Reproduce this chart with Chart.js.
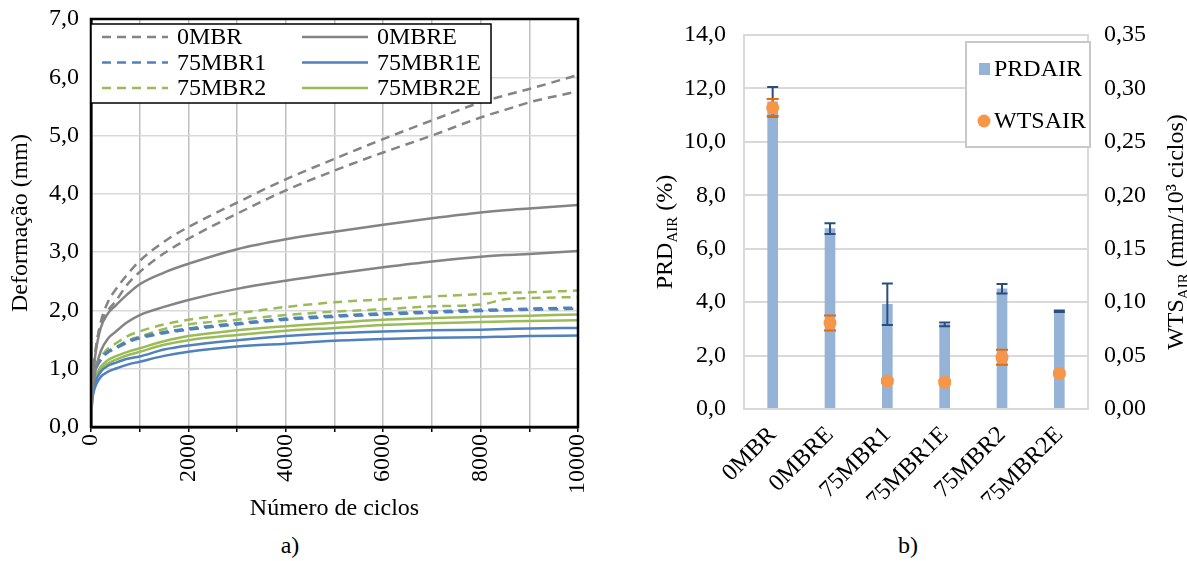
<!DOCTYPE html>
<html lang="pt">
<head>
<meta charset="utf-8">
<script src="https://cdn.jsdelivr.net/npm/chart.js@4.4.1/dist/chart.umd.min.js"></script>
<style>
  html, body { margin: 0; padding: 0; width: 1187px; height: 561px; background: #fff; overflow: hidden; }
  .box { position: absolute; top: 0; }
  #leftBox { left: 0; width: 600px; height: 525px; }
  #rightBox { left: 600px; width: 587px; height: 500px; }
  .cap { position: absolute; top: 532px; font: 24px "Liberation Serif", serif; color: #000; transform: translateX(-50%); }
</style>
</head>
<body>
<div class="box" id="leftBox"><canvas id="left"></canvas></div>
<div class="box" id="rightBox"><canvas id="right"></canvas></div>
<div class="cap" style="left:290px">a)</div>
<div class="cap" style="left:908px">b)</div>
<script>
// ---- chart a) : deformation vs cycles (two specimens per mixture)
const cycles = [0, 20, 50, 100, 200, 350, 500, 750, 1000, 1500, 2000, 3000, 4000, 5000, 6000, 7000, 8000, 8500, 9000, 10000];
const mbr0A    = [0, 0.55, 0.95, 1.35, 1.80, 2.15, 2.35, 2.62, 2.85, 3.18, 3.43, 3.85, 4.25, 4.60, 4.94, 5.26, 5.57, 5.69, 5.80, 6.04];
const mbr0B    = [0, 0.55, 0.95, 1.35, 1.75, 2.00, 2.15, 2.45, 2.66, 2.98, 3.23, 3.66, 4.06, 4.40, 4.71, 5.00, 5.31, 5.44, 5.57, 5.76];
const mbr0eA   = [0, 0.55, 0.95, 1.30, 1.70, 1.95, 2.08, 2.28, 2.45, 2.65, 2.80, 3.05, 3.22, 3.35, 3.47, 3.58, 3.68, 3.72, 3.75, 3.81];
const mbr0eB   = [0, 0.45, 0.75, 1.00, 1.30, 1.52, 1.63, 1.80, 1.92, 2.06, 2.18, 2.37, 2.51, 2.63, 2.74, 2.84, 2.92, 2.95, 2.97, 3.02];
const mbr751A  = [0, 0.50, 0.80, 1.00, 1.17, 1.30, 1.36, 1.47, 1.54, 1.63, 1.69, 1.78, 1.86, 1.91, 1.95, 1.98, 2.01, 2.02, 2.03, 2.05];
const mbr751B  = [0, 0.50, 0.78, 0.98, 1.15, 1.28, 1.34, 1.45, 1.52, 1.61, 1.67, 1.76, 1.84, 1.89, 1.93, 1.96, 1.99, 2.00, 2.01, 2.03];
const mbr751eA = [0, 0.45, 0.65, 0.80, 0.95, 1.05, 1.10, 1.17, 1.21, 1.33, 1.40, 1.49, 1.56, 1.61, 1.64, 1.66, 1.67, 1.68, 1.69, 1.70];
const mbr751eB = [0, 0.40, 0.58, 0.72, 0.86, 0.95, 1.00, 1.07, 1.12, 1.22, 1.29, 1.38, 1.43, 1.48, 1.51, 1.53, 1.54, 1.55, 1.56, 1.57];
const mbr752A  = [0, 0.55, 0.85, 1.05, 1.20, 1.35, 1.43, 1.56, 1.64, 1.76, 1.84, 1.95, 2.06, 2.14, 2.19, 2.24, 2.28, 2.30, 2.31, 2.34];
const mbr752B  = [0, 0.50, 0.80, 1.00, 1.15, 1.30, 1.36, 1.48, 1.55, 1.68, 1.76, 1.84, 1.92, 1.98, 2.02, 2.07, 2.10, 2.19, 2.21, 2.23];
const mbr752eA = [0, 0.50, 0.72, 0.88, 1.03, 1.15, 1.21, 1.29, 1.35, 1.47, 1.56, 1.66, 1.73, 1.79, 1.84, 1.87, 1.89, 1.90, 1.91, 1.93];
const mbr752eB = [0, 0.48, 0.68, 0.83, 0.98, 1.09, 1.15, 1.23, 1.29, 1.41, 1.49, 1.58, 1.65, 1.70, 1.75, 1.78, 1.80, 1.81, 1.82, 1.83];

// ---- chart b) : PRD_AIR bars and WTS_AIR points
const mixes  = ['0MBR', '0MBRE', '75MBR1', '75MBR1E', '75MBR2', '75MBR2E'];
const prd    = [11.5, 6.75, 3.92, 3.17, 4.50, 3.66];
const prdErr = [0.55, 0.20, 0.78, 0.07, 0.18, 0.03];
const wts    = [0.282, 0.0805, 0.0262, 0.0252, 0.0484, 0.0334];
const wtsErr = [0.008, 0.007, 0.002, 0.002, 0.007, 0.002];

const GRAY = '#848484', BLUE = '#4F81BD', GREEN = '#9BBB59';
const FONT = '"Liberation Serif", "Times New Roman", serif';
const FS = 24;
const DASH = [9, 6];

const comma = (v, d) => v.toFixed(d).replace('.', ',');
const pts = arr => cycles.map((x, i) => ({ x, y: arr[i] }));

function series(label, arr, color, dashed) {
  return {
    label, data: pts(arr), borderColor: color, backgroundColor: color,
    borderWidth: 2.5, borderDash: dashed ? DASH : [], pointRadius: 0,
    cubicInterpolationMode: 'monotone', fill: false
  };
}

// order chosen so legend reads row by row like the original
const leftSets = [
  series('0MBR', mbr0A, GRAY, true), series('0MBR', mbr0B, GRAY, true),
  series('0MBRE', mbr0eA, GRAY, false), series('0MBRE', mbr0eB, GRAY, false),
  series('75MBR1', mbr751A, BLUE, true), series('75MBR1', mbr751B, BLUE, true),
  series('75MBR1E', mbr751eA, BLUE, false), series('75MBR1E', mbr751eB, BLUE, false),
  series('75MBR2', mbr752A, GREEN, true), series('75MBR2', mbr752B, GREEN, true),
  series('75MBR2E', mbr752eA, GREEN, false), series('75MBR2E', mbr752eB, GREEN, false)
];

const plotFrame = {
  id: 'plotFrame',
  afterDraw(chart, args, opts) {
    const { ctx, chartArea: a } = chart;
    ctx.save();
    ctx.strokeStyle = opts.color;
    ctx.lineWidth = opts.width;
    ctx.strokeRect(a.left, a.top, a.right - a.left, a.bottom - a.top);
    ctx.restore();
  }
};

// legend of chart a): 3 rows x 2 columns, one entry per pair of curves
const pairLegend = {
  id: 'pairLegend',
  afterDraw(chart) {
    const { ctx, chartArea: a } = chart;
    const sets = chart.data.datasets.filter((d, i) => i % 2 === 0);
    const x0 = a.left, y0 = a.top + 5, w = 400, h = 79;
    ctx.save();
    ctx.fillStyle = '#fff';
    ctx.fillRect(x0, y0, w, h);
    ctx.strokeStyle = '#000';
    ctx.lineWidth = 1.5;
    ctx.strokeRect(x0, y0, w, h);
    ctx.font = FS + 'px ' + FONT;
    ctx.textBaseline = 'middle';
    sets.forEach((d, i) => {
      const col = i % 2, row = Math.floor(i / 2);
      const lx = x0 + 11 + col * 200, ly = y0 + 13 + row * 25.5;
      ctx.strokeStyle = d.borderColor;
      ctx.lineWidth = 2.5;
      ctx.setLineDash(d.borderDash);
      ctx.beginPath(); ctx.moveTo(lx, ly); ctx.lineTo(lx + 66, ly); ctx.stroke();
      ctx.setLineDash([]);
      ctx.fillStyle = '#000';
      ctx.fillText(d.label, lx + 75, ly + 1);
    });
    ctx.restore();
  }
};

new Chart(document.getElementById('left'), {
  type: 'line',
  data: { datasets: leftSets },
  plugins: [plotFrame, pairLegend],
  options: {
    responsive: true, maintainAspectRatio: false, animation: false,
    layout: { padding: { top: 19, right: 22, left: 0, bottom: 0 } },
    plugins: { legend: { display: false }, tooltip: { enabled: false },
      plotFrame: { color: '#000', width: 2.5 } },
    scales: {
      x: {
        type: 'linear', min: 0, max: 10000,
        afterFit: s => { s.height = 98; s.paddingLeft = 0; s.paddingRight = 0; },
        grid: { color: '#BFBFBF', lineWidth: 1.5, tickLength: 5, tickColor: '#000' },
        border: { color: '#000', width: 2.5 },
        ticks: { stepSize: 1000, minRotation: 90, maxRotation: 90, autoSkip: false, color: '#000', padding: 2,
          font: { family: FONT, size: FS },
          callback: v => (v % 2000 === 0 ? String(v) : '') },
        title: { display: true, text: 'Número de ciclos', color: '#000', font: { family: FONT, size: FS }, padding: { top: 0, bottom: 2 } }
      },
      y: {
        min: 0, max: 7,
        afterFit: s => { s.width = 91; s.paddingTop = 0; s.paddingBottom = 0; },
        grid: { color: '#D9D9D9', lineWidth: 1.5, drawTicks: false },
        border: { color: '#000', width: 2.5 },
        ticks: { stepSize: 1, color: '#000', padding: 12, font: { family: FONT, size: FS }, callback: v => comma(v, 1) },
        title: { display: true, text: 'Deformação (mm)', color: '#000', font: { family: FONT, size: FS }, padding: { top: 6, bottom: 0 } }
      }
    }
  }
});

// ---- chart b) helpers
function drawRich(ctx, parts, cx, cy) {
  ctx.save();
  ctx.translate(cx, cy);
  ctx.rotate(-Math.PI / 2);
  let total = 0;
  parts.forEach(p => { ctx.font = p.size + 'px ' + FONT; total += ctx.measureText(p.t).width; });
  let x = -total / 2;
  ctx.fillStyle = '#000';
  ctx.textBaseline = 'alphabetic';
  parts.forEach(p => {
    ctx.font = p.size + 'px ' + FONT;
    ctx.fillText(p.t, x, 8 + (p.dy || 0));
    x += ctx.measureText(p.t).width;
  });
  ctx.restore();
}

const sideTitles = {
  id: 'sideTitles',
  afterDraw(chart) {
    const { ctx, chartArea: a } = chart;
    const cy = (a.top + a.bottom) / 2 + 10;
    drawRich(ctx, [{ t: 'PRD', size: FS }, { t: 'AIR', size: 15, dy: 5 }, { t: ' (%)', size: FS }], 64, cy);
    drawRich(ctx, [{ t: 'WTS', size: FS }, { t: 'AIR', size: 15, dy: 5 }, { t: ' (mm/10³ ciclos)', size: FS }], a.right + 87, cy);
  }
};

const errorBars = {
  id: 'errorBars',
  afterDatasetDraw(chart, args) {
    if (args.index !== 0) return;
    const ctx = chart.ctx, xs = chart.scales.x;
    const draw = (vals, errs, scale, color, capW) => {
      ctx.save();
      ctx.strokeStyle = color;
      ctx.lineWidth = 2;
      vals.forEach((v, i) => {
        const x = xs.getPixelForValue(i);
        const hi = scale.getPixelForValue(v + errs[i]);
        const lo = scale.getPixelForValue(v - errs[i]);
        ctx.beginPath();
        ctx.moveTo(x, hi); ctx.lineTo(x, lo);
        ctx.moveTo(x - capW / 2, hi); ctx.lineTo(x + capW / 2, hi);
        ctx.moveTo(x - capW / 2, lo); ctx.lineTo(x + capW / 2, lo);
        ctx.stroke();
      });
      ctx.restore();
    };
    draw(prd, prdErr, chart.scales.y, '#2A4D7F', 11);
    draw(wts, wtsErr, chart.scales.y1, '#E46C0A', 12);
  }
};

const sideLegend = {
  id: 'sideLegend',
  afterDraw(chart) {
    const { ctx, chartArea: a } = chart;
    const w = 124, h = 105, x0 = a.right - w + 2, y0 = a.top + 7;
    ctx.save();
    ctx.fillStyle = '#fff';
    ctx.fillRect(x0, y0, w, h);
    ctx.strokeStyle = '#C8C8C8';
    ctx.lineWidth = 2;
    ctx.strokeRect(x0, y0, w, h);
    ctx.font = FS + 'px ' + FONT;
    ctx.textBaseline = 'middle';
    ctx.fillStyle = '#95B3D7';
    ctx.fillRect(x0 + 13, y0 + 21, 11, 12);
    ctx.fillStyle = '#F79646';
    ctx.beginPath(); ctx.arc(x0 + 18, y0 + 79, 6.5, 0, Math.PI * 2); ctx.fill();
    ctx.fillStyle = '#000';
    ctx.fillText('PRDAIR', x0 + 28, y0 + 28);
    ctx.fillText('WTSAIR', x0 + 28, y0 + 80);
    ctx.restore();
  }
};

new Chart(document.getElementById('right'), {
  type: 'bar',
  data: {
    labels: mixes,
    datasets: [
      { type: 'bar', label: 'PRDAIR', data: prd, backgroundColor: '#95B3D7', barThickness: 10, yAxisID: 'y', order: 1 },
      { type: 'line', label: 'WTSAIR', data: wts, showLine: false, pointRadius: 6.5, pointBackgroundColor: '#F79646',
        pointBorderWidth: 0, borderColor: '#F79646', yAxisID: 'y1', order: 0 }
    ]
  },
  plugins: [plotFrame, errorBars, sideLegend, sideTitles],
  options: {
    responsive: true, maintainAspectRatio: false, animation: false,
    layout: { padding: { top: 35, right: 0, left: 0, bottom: 0 } },
    plugins: { legend: { display: false }, tooltip: { enabled: false },
      plotFrame: { color: '#D9D9D9', width: 2 } },
    scales: {
      x: {
        afterFit: s => { s.height = 91; },
        grid: { display: false },
        border: { display: false },
        ticks: { minRotation: 45, maxRotation: 45, color: '#000', padding: 4, font: { family: FONT, size: FS } }
      },
      y: {
        position: 'left', min: 0, max: 14,
        afterFit: s => { s.width = 144; },
        grid: { color: '#D9D9D9', lineWidth: 2, drawTicks: false },
        border: { display: false },
        ticks: { stepSize: 2, color: '#000', padding: 18, font: { family: FONT, size: FS }, callback: v => comma(v, 1) }
      },
      y1: {
        position: 'right', min: 0, max: 0.35,
        afterFit: s => { s.width = 99; },
        grid: { display: false, drawTicks: false },
        border: { display: false },
        ticks: { stepSize: 0.05, color: '#000', padding: 16, font: { family: FONT, size: FS }, callback: v => comma(v, 2) }
      }
    }
  }
});
</script>
</body>
</html>
